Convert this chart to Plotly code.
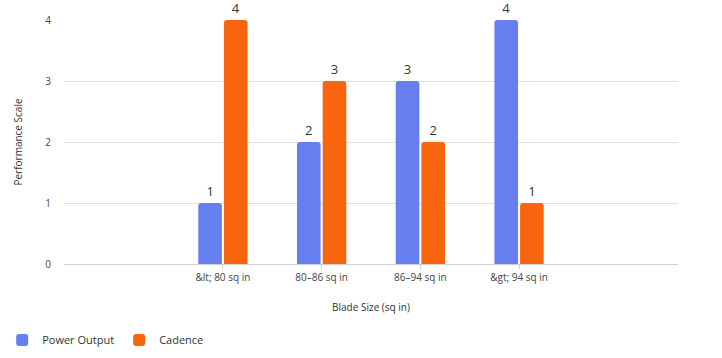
import plotly.graph_objects as go

categories = ["&amp;lt; 80 sq in", "80–86 sq in", "86–94 sq in", "&amp;gt; 94 sq in"]
power_output = [1, 2, 3, 4]
cadence = [4, 3, 2, 1]

font = "Open Sans, Segoe UI, sans-serif"

fig = go.Figure()
fig.add_trace(go.Bar(
    name="Power Output", x=categories, y=power_output,
    marker=dict(color="#657ff0", line=dict(width=0)),
    text=[str(v) for v in power_output], textposition="outside",
    textfont=dict(size=13, color="#333333", family=font),
    cliponaxis=False,
))
fig.add_trace(go.Bar(
    name="Cadence", x=categories, y=cadence,
    marker=dict(color="#f9650f", line=dict(width=0)),
    text=[str(v) for v in cadence], textposition="outside",
    textfont=dict(size=13, color="#333333", family=font),
    cliponaxis=False,
))

fig.update_layout(
    width=722, height=358,
    margin=dict(l=64, r=44, t=20, b=94, autoexpand=False),
    paper_bgcolor="white", plot_bgcolor="white",
    font=dict(family=font, size=10, color="#444444"),
    barmode="group", bargap=0.48, bargroupgap=0.08,
    barcornerradius=3,
    showlegend=True,
    legend=dict(orientation="h", xref="container", yref="container",
                x=0.003, y=0.05, xanchor="left", yanchor="middle",
                font=dict(size=11, color="#333333", family=font),
                itemwidth=30, traceorder="normal"),
    xaxis=dict(
        type="category", range=[-1.61, 4.61], automargin=False,
        showgrid=False, showline=True, linecolor="#d0d0d0", linewidth=1,
        ticks="outside", ticklen=4, tickcolor="#d0d0d0",
        tickfont=dict(size=10, color="#444444"),
        title=dict(text="Blade Size (sq in)", font=dict(size=10, color="#333333"), standoff=20),
    ),
    yaxis=dict(
        range=[0, 4], tickvals=[0, 1, 2, 3, 4], automargin=False,
        showgrid=True, gridcolor="#e0e0e0", gridwidth=1,
        zeroline=False, showline=False,
        ticks="", ticklabelstandoff=12,
        tickfont=dict(size=10, color="#444444"),
        title=dict(text="Performance Scale", font=dict(size=10, color="#333333"), standoff=20),
    ),
)

fig.write_html("out.html", config={"displayModeBar": False},
               post_script="document.body.style.margin='0';")
